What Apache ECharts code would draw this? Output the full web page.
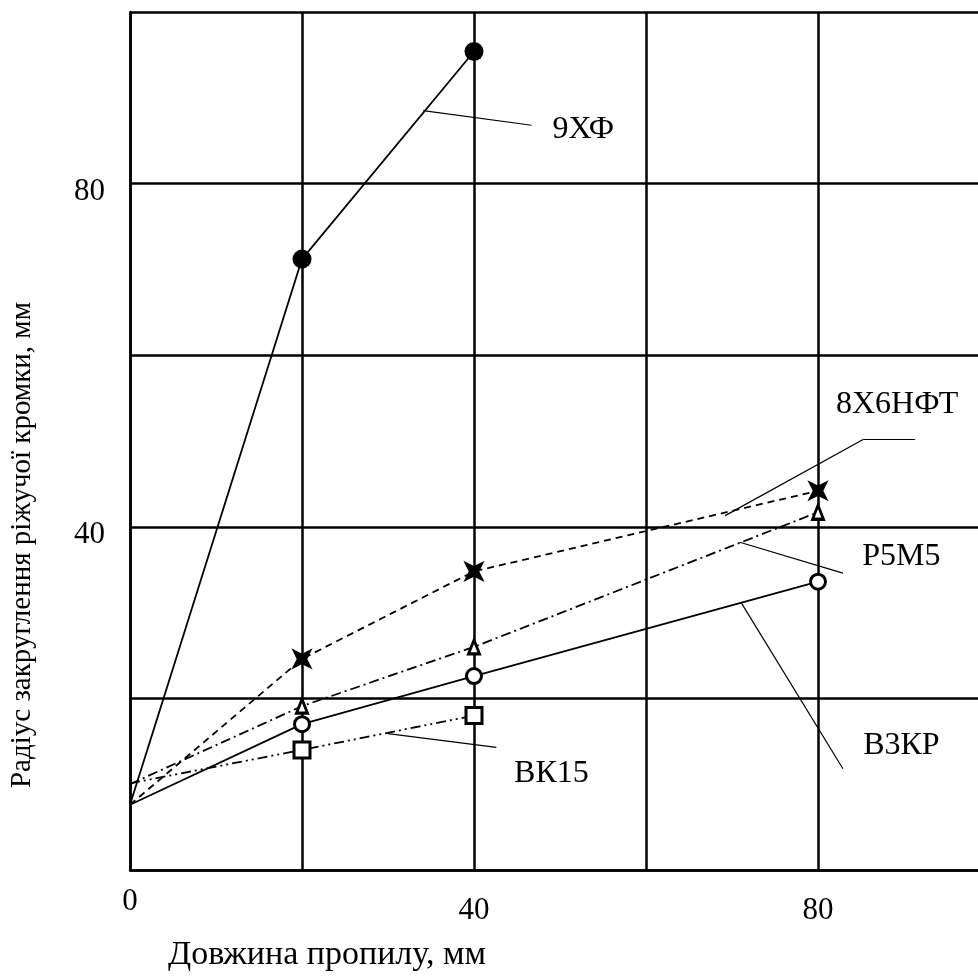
<!DOCTYPE html>
<html>
<head>
<meta charset="utf-8">
<script src="https://cdn.jsdelivr.net/npm/echarts@6/dist/echarts.min.js"></script>
<style>
  html, body { margin: 0; padding: 0; background: #fff; }
  #chart { width: 978px; height: 978px; }
</style>
</head>
<body>
<div id="chart"></div>
<script>
const font = 'Liberation Serif'
const xTicks = [40, 80]
const yTicks = [40, 80]

// series data: x = довжина пропилу, y = радіус
const x9XF = [0, 20, 40]
const y9XF = [7.6, 71.2, 95.4]
const x8X6 = [0, 20, 40, 80]
const y8X6 = [7.6, 24.6, 34.8, 44.2]
const xP5M5 = [0, 20, 40, 80]
const yP5M5 = [10.0, 19.1, 26.0, 41.7]
const xB3KP = [0, 20, 40, 80]
const yB3KP = [7.6, 17.0, 22.6, 33.6]
const xBK15 = [0, 20, 40]
const yBK15 = [10.1, 14.0, 18.0]

// leader lines and label anchors (data coords)
const lead9XF = [[[34.1, 88.5], [46.7, 86.8]]]
const lab9XF = [52.7, 86.3]
const lead8X6 = [[[69.2, 41.3], [85.3, 50.2]], [[85.3, 50.2], [91.3, 50.2]]]
const lab8X6 = [89.2, 54.2]
const leadP5M5 = [[[70.9, 38.2], [82.9, 34.6]]]
const labP5M5 = [89.7, 36.5]
const leadB3KP = [[[71.1, 31.1], [82.9, 11.8]]]
const labB3KP = [89.7, 14.5]
const leadBK15 = [[[30.0, 15.9], [42.6, 14.3]]]
const labBK15 = [49.0, 11.2]

const starPath = 'path://M0,-12 L3,-3 L12,0 L3,3 L0,12 L-3,3 L-12,0 L-3,-3 Z'

function makeSeries(name, xs, ys, lineType, marker, leader, labelAt) {
  return {
    name: name,
    type: 'line',
    data: xs.map((x, i) => (x === 0 ? { value: [x, ys[i]], symbol: 'none' } : [x, ys[i]])),
    lineStyle: { color: '#000', width: 1.8, type: lineType },
    symbol: marker.symbol,
    symbolSize: marker.size,
    symbolRotate: marker.rotate || 0,
    itemStyle: marker.style,
    z: 3,
    markLine: {
      silent: true,
      symbol: 'none',
      label: { show: false },
      lineStyle: { color: '#000', width: 1.2, type: 'solid' },
      data: leader.map(seg => [{ coord: seg[0] }, { coord: seg[1] }])
    },
    markPoint: {
      silent: true,
      symbol: 'rect',
      symbolSize: 1,
      itemStyle: { color: 'rgba(0,0,0,0)' },
      label: { show: true, position: 'inside', formatter: name, color: '#000', fontFamily: font, fontSize: 32 },
      data: [{ coord: labelAt }]
    }
  }
}

const hollow = { color: '#fff', borderColor: '#000', borderWidth: 3 }

const chart = echarts.init(document.getElementById('chart'))
chart.setOption({
  animation: false,
  backgroundColor: '#fff',
  grid: { left: 130, top: 12, width: 860, bottom: 108, outerBoundsMode: 'none' },
  xAxis: {
    type: 'value',
    min: 0,
    max: 100,
    interval: 20,
    name: 'Довжина пропилу, мм',
    nameLocation: 'middle',
    nameGap: 68,
    nameTextStyle: { color: '#000', fontFamily: font, fontSize: 34, padding: [0, 466, 0, 0] },
    axisLine: { lineStyle: { color: '#000', width: 2.5 } },
    axisTick: { show: false },
    splitLine: { lineStyle: { color: '#000', width: 2.5 } },
    axisLabel: {
      color: '#000', fontFamily: font, fontSize: 31, margin: 25,
      formatter: v => (xTicks.includes(v) ? String(v) : '')
    }
  },
  yAxis: {
    type: 'value',
    min: 0,
    max: 100,
    interval: 20,
    name: 'Радіус закруглення ріжучої кромки, мм',
    nameLocation: 'middle',
    nameGap: 93,
    nameTextStyle: { color: '#000', fontFamily: font, fontSize: 29, padding: [0, 208, 0, 0] },
    axisLine: { lineStyle: { color: '#000', width: 2.5 } },
    axisTick: { show: false },
    splitLine: { lineStyle: { color: '#000', width: 2.5 } },
    axisLabel: {
      color: '#000', fontFamily: font, fontSize: 31, margin: 25,
      verticalAlign: 'top', lineHeight: 16,
      formatter: v => (yTicks.includes(v) ? String(v) : '')
    }
  },
  series: [
    makeSeries('9ХФ', x9XF, y9XF, 'solid', { symbol: 'circle', size: 19, style: { color: '#000' } }, lead9XF, lab9XF),
    makeSeries('8Х6НФТ', x8X6, y8X6, [7, 5], { symbol: starPath, size: 30, rotate: 45, style: { color: '#000' } }, lead8X6, lab8X6),
    makeSeries('Р5М5', xP5M5, yP5M5, [10, 4, 2, 4], { symbol: 'triangle', size: [11, 14], style: hollow }, leadP5M5, labP5M5),
    makeSeries('В3КР', xB3KP, yB3KP, 'solid', { symbol: 'circle', size: 15, style: hollow }, leadB3KP, labB3KP),
    makeSeries('ВК15', xBK15, yBK15, [10, 4, 2, 4, 2, 4], { symbol: 'rect', size: 16, style: hollow }, leadBK15, labBK15)
  ]
})

// the origin "0" sits apart from the other x labels
const origin = chart.convertToPixel({ gridIndex: 0 }, [0, 0])
chart.setOption({
  graphic: [{
    type: 'text',
    x: origin[0],
    y: origin[1] + 32,
    style: { text: '0', fill: '#000', font: '31px "Liberation Serif"', align: 'center', verticalAlign: 'middle' }
  }]
})
</script>
</body>
</html>
